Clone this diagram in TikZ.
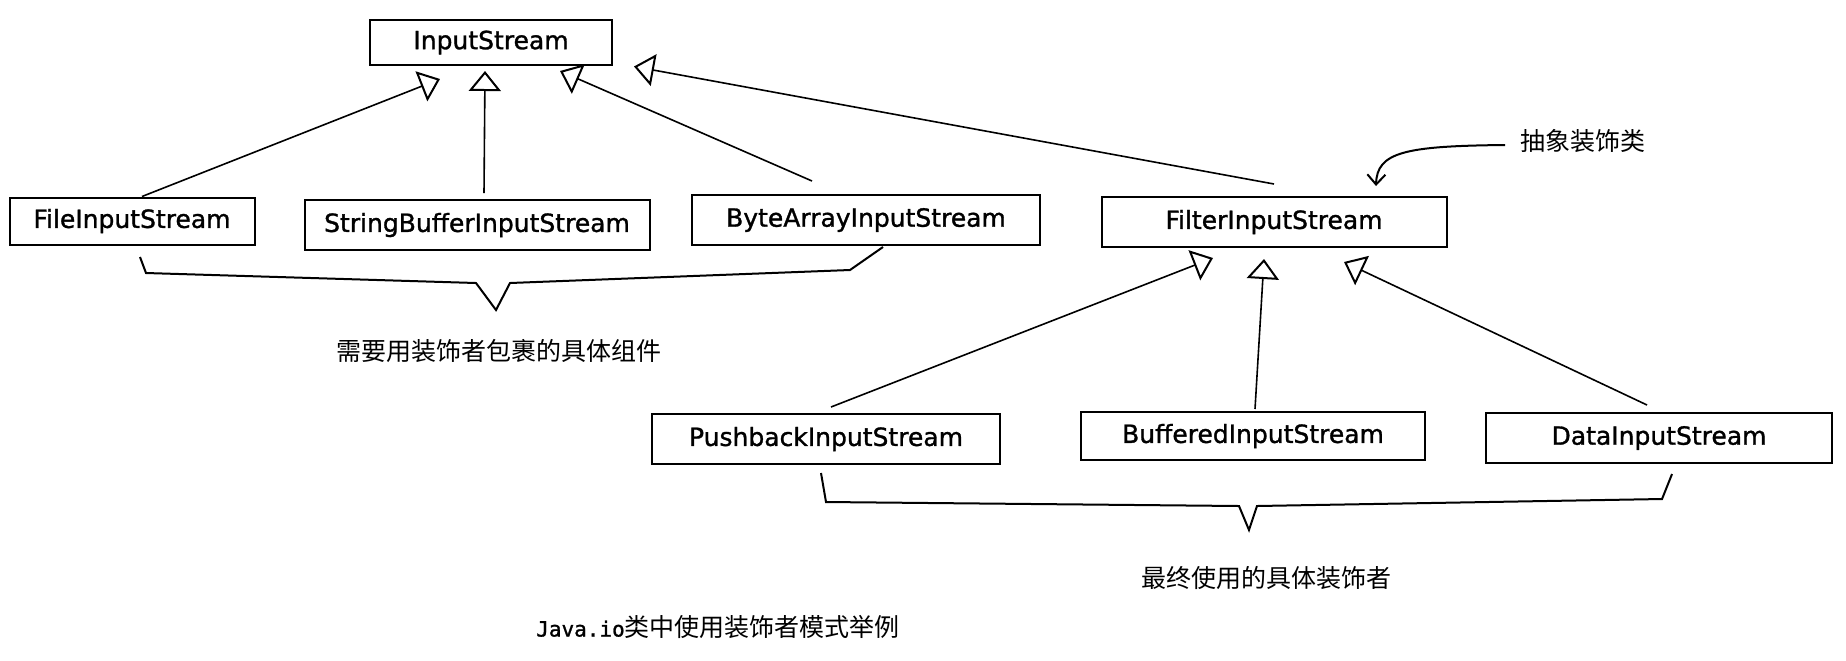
\documentclass[tikz,border=0pt]{standalone}
\usepackage{fontspec}
\setmainfont{DejaVu Sans}
\newfontfamily\boxfont[FakeBold=1.2]{DejaVu Sans}
\newfontfamily\cjk{Noto Sans CJK SC}
\newfontfamily\monof[FakeBold=1.2]{DejaVu Sans Mono}
\usetikzlibrary{arrows.meta,calc}
\begin{document}
\begin{tikzpicture}[x=0.5pt,y=-0.5pt,
  cls/.style={draw, line width=1pt, inner sep=0pt, font=\boxfont\fontsize{12.5}{14}\selectfont},
  inh/.style={line width=0.8pt, -{Triangle[open, length=10pt, width=16pt, line width=1pt]}},
  brace/.style={line width=1pt, line join=miter},
  lbl/.style={inner sep=0pt, font=\cjk\fontsize{12.5}{14}\selectfont},
  note/.style={line width=1pt, -{Straight Barb[length=5pt, width=9pt, line width=1pt]}}]
\useasboundingbox (0,0) rectangle (1846,660);

% class boxes
\node[cls, minimum width=121pt, minimum height=22.5pt] (input) at (491,42.5) {InputStream};
\node[cls, minimum width=122.5pt, minimum height=23.5pt] (file) at (132,221) {FileInputStream};
\node[cls, minimum width=172.5pt, minimum height=25pt] (sb) at (477,225) {StringBufferInputStream};
\node[cls, minimum width=174pt, minimum height=25pt] (byte) at (866,220) {ByteArrayInputStream};
\node[cls, minimum width=172.5pt, minimum height=25pt] (filter) at (1274,222) {FilterInputStream};
\node[cls, minimum width=174pt, minimum height=25pt] (push) at (826,439) {PushbackInputStream};
\node[cls, minimum width=172pt, minimum height=24pt] (buf) at (1253,436) {BufferedInputStream};
\node[cls, minimum width=173pt, minimum height=25pt] (data) at (1659,438) {DataInputStream};

% labels
\node[lbl] (comp) at (499,351) {需要用装饰者包裹的具体组件};
\node[lbl] (deco) at (1266,578) {最终使用的具体装饰者};
\node[lbl, anchor=west] (absn) at (1520,141) {抽象装饰类};
\node[inner sep=0pt] (title) at (718,627) {{\monof\fontsize{10.5}{12}\selectfont Java.io}{\cjk\fontsize{12.5}{14}\selectfont 类中使用装饰者模式举例}};

% inheritance arrows
\draw[inh] ([shift={(10,0)}]file.north) -- ([shift={(-51,13)}]input.south);
\draw[inh] ([shift={(7,-6)}]sb.north) -- ([shift={(-6,5)}]input.south);
\draw[inh] ([shift={(-54,-13)}]byte.north) -- ([shift={(69,5)}]input.south);
\draw[inh] ([shift={(0,-12)}]filter.north) -- ([shift={(21,24)}]input.east);
\draw[inh] ([shift={(5,-6)}]push.north) -- ([shift={(-61,10)}]filter.south);
\draw[inh] ([shift={(2,-2)}]buf.north) -- ([shift={(-10,11)}]filter.south);
\draw[inh] ([shift={(-12,-7)}]data.north) -- ([shift={(70,14)}]filter.south);

% note arrow
\draw[note] ([shift={(-15,4)}]absn.west) .. controls (1405,146) and (1377,152) .. ([shift={(102,-10)}]filter.north);

% braces
\draw[brace] (140,257) -- (146,273) -- (476,283) -- (496,310) -- (510,283) -- (850,270) -- (883,247);
\draw[brace] (821,473) -- (826,502) -- (1239,506) -- (1249,530) -- (1257,506) -- (1662,499) -- (1672,474);
\end{tikzpicture}
\end{document}
